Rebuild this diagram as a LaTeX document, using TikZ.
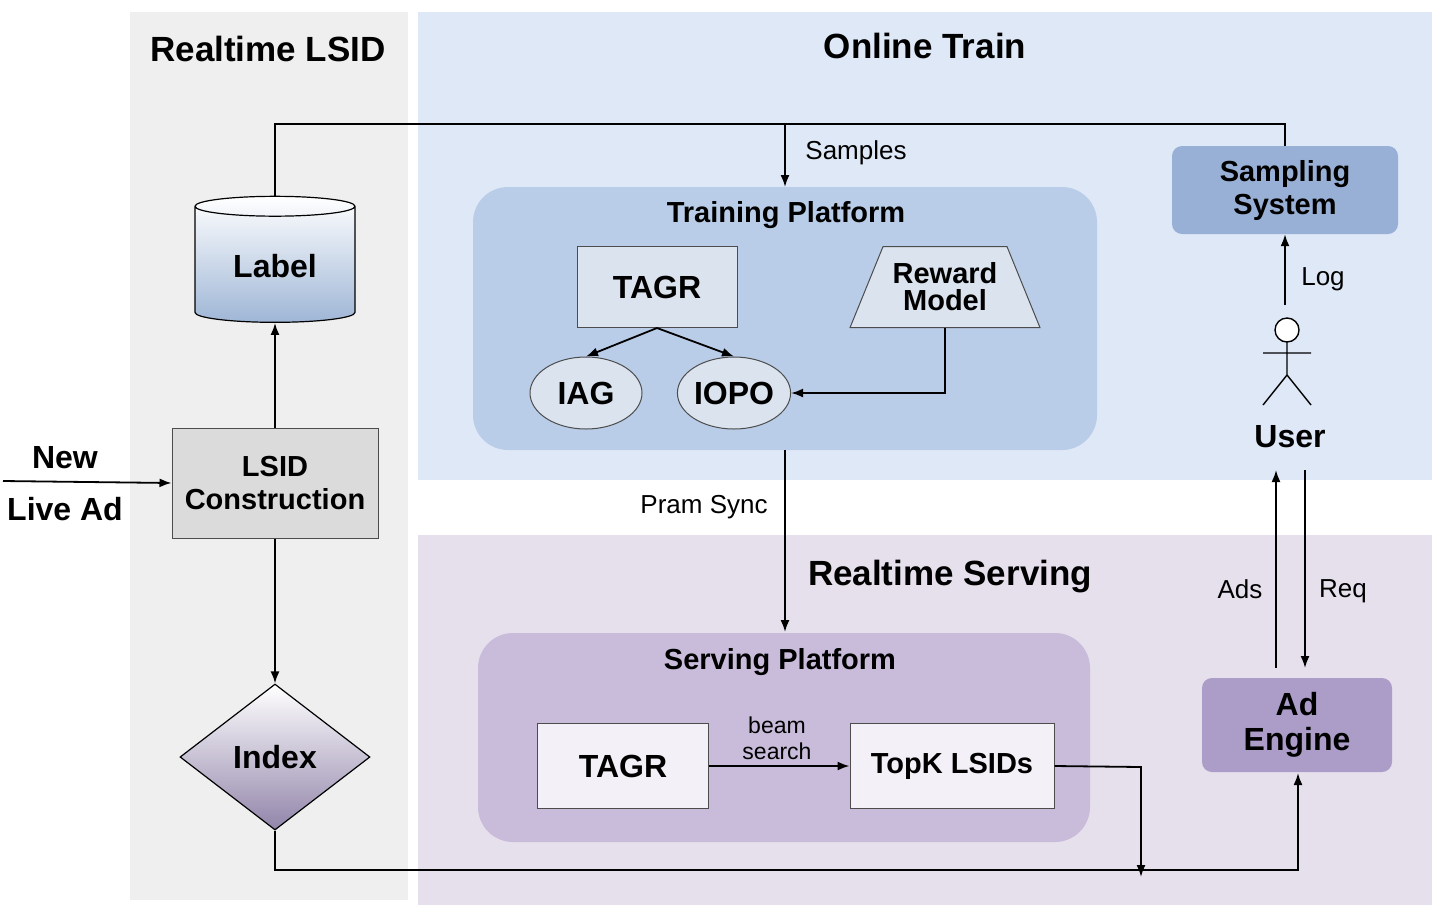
\documentclass[tikz,border=0pt]{standalone}
\usepackage{fontspec}
\setmainfont{Liberation Sans}
\usetikzlibrary{arrows.meta,shapes.geometric}
\definecolor{lgray}{HTML}{EFEFEF}
\definecolor{trainbg}{HTML}{DFE8F7}
\definecolor{servbg}{HTML}{E5E0EC}
\definecolor{tplat}{HTML}{B9CDE8}
\definecolor{tbox}{HTML}{DBE3EF}
\definecolor{samp}{HTML}{98B0D6}
\definecolor{splat}{HTML}{C9BCDB}
\definecolor{sbox}{HTML}{F3F0F7}
\definecolor{adeng}{HTML}{AB9CC8}
\definecolor{cylb}{HTML}{9FB6D6}
\tikzset{
 arr/.style={-{Latex[length=12pt,width=9pt]},line width=1.8pt},
 ln/.style={line width=1.8pt},
 ttl/.style={font=\fontsize{35}{38}\selectfont\bfseries},
 big/.style={font=\fontsize{32}{35}\selectfont\bfseries,align=center},
 mid/.style={font=\fontsize{29}{33}\selectfont\bfseries,align=center},
 lab/.style={font=\fontsize{26}{28}\selectfont,align=center},
 box/.style={draw=black!70,line width=1pt},
}
\begin{document}
\begin{tikzpicture}[x=1pt,y=-1pt]
\useasboundingbox (0,0) rectangle (1442,914);
% panels
\fill[lgray] (130,12) rectangle (408,900);
\fill[trainbg] (418,12) rectangle (1432,480);
\fill[servbg] (418,535) rectangle (1432,905);
\node[ttl] (t1) at (268,49) {Realtime LSID};
\node[ttl] (t2) at (925,46) {Online Train};
\node[ttl] (t3) at (950,577) {Realtime Serving};
% training platform
\fill[tplat,rounded corners=35pt] (473,187) rectangle (1097,450);
\node[mid] (tp) at (786,215) {Training Platform};
\node[box,fill=tbox,minimum width=160pt,minimum height=81pt,big] (tagr1) at (657,287) {TAGR};
\node[box,fill=tbox,trapezium,trapezium stretches=true,minimum width=190pt,minimum height=81pt,mid,inner sep=0pt] (rm) at (945,287) {Reward\\[-6pt]Model};
\node[box,fill=tbox,ellipse,minimum width=112pt,minimum height=72pt,big,inner sep=0pt] (iag) at (586,393) {IAG};
\node[box,fill=tbox,ellipse,minimum width=112pt,minimum height=72pt,big,inner sep=0pt] (iopo) at (734,393) {IOPO};
\draw[arr] (tagr1.south) -- (iag.north);
\draw[arr] (tagr1.south) -- (iopo.north);
\draw[arr] (rm.south) |- (iopo.east);
% sampling
\node[fill=samp,rounded corners=10pt,minimum width=226pt,minimum height=88pt,mid] (ss) at (1285,190) {Sampling\\System};
% user
\draw[line width=1.4pt,fill=white] (1287,330) circle (12pt);
\draw[line width=1.4pt] (1287,342) -- (1287,375) (1263,353) -- (1311,353) (1263,405) -- (1287,375) -- (1311,405);
\node[big] (user) at (1290,437) {User};
\coordinate (ulog) at (1285,305);
\draw[arr] (ulog) -- (ss.south);
\node[lab] (log) at (1323,279) {Log};
% left column
\node[draw,line width=1.2pt,cylinder,shape border rotate=90,aspect=0.22,minimum width=160pt,minimum height=126pt,top color=white,bottom color=cylb,big] (label) at (275,266) {Label};
\node[box,fill=black!14,minimum width=206pt,minimum height=110pt,mid] (lsid) at (275,483) {LSID\\Construction};
\node[draw,line width=1.2pt,diamond,minimum width=190pt,minimum height=146pt,aspect=1.3,top color=white,bottom color=adeng!85!black,big] (idx) at (275,757) {Index};
\node[big] (new) at (65,458) {New};
\node[big] (la) at (65,509) {Live Ad};
\coordinate (nin) at (3,481);
\draw[arr] (nin) -- (lsid.west);
\draw[arr] (lsid.north) -- (label.bottom);
\draw[arr] (lsid.south) -- (idx.north);
% samples loop
\coordinate (c1) at (275,124); \coordinate (c2) at (1285,124); \coordinate (c3) at (785,124);
\draw[ln] (label.top) -- (c1) -- (c2) -- (ss.north);
\draw[arr] (c3) -- (785,187);
\node[lab] (samples) at (856,153) {Samples};
% serving
\fill[splat,rounded corners=35pt] (478,633) rectangle (1090,842);
\node[mid] (sp) at (780,662) {Serving Platform};
\draw[arr] (785,450) -- (785,632);
\node[lab] (ps) at (704,507) {Pram Sync};
\node[box,fill=sbox,minimum width=171pt,minimum height=85pt,big] (tagr2) at (623,766) {TAGR};
\node[box,fill=sbox,minimum width=204pt,minimum height=85pt,mid] (topk) at (952,766) {TopK LSIDs};
\draw[arr] (tagr2.east) -- (topk.west);
\node[lab,font=\fontsize{23}{26}\selectfont] (bs) at (777,738) {beam\\search};
\node[fill=adeng,rounded corners=10pt,minimum width=190pt,minimum height=94pt,big] (ad) at (1297,725) {Ad\\Engine};
\coordinate (k1) at (1141,767);
\draw[arr] (topk.east) -- (k1) -- (1141,877);
\coordinate (i1) at (275,870); \coordinate (i2) at (1298,870);
\draw[arr] (idx.south) -- (i1) -- (i2) -- (1298,773);
\draw[arr] (1276,668) -- (1276,470);
\draw[arr] (1305,470) -- (1305,668);
\node[lab] (ads) at (1240,589) {Ads};
\node[lab] (req) at (1343,591) {Req};
\end{tikzpicture}
\end{document}
